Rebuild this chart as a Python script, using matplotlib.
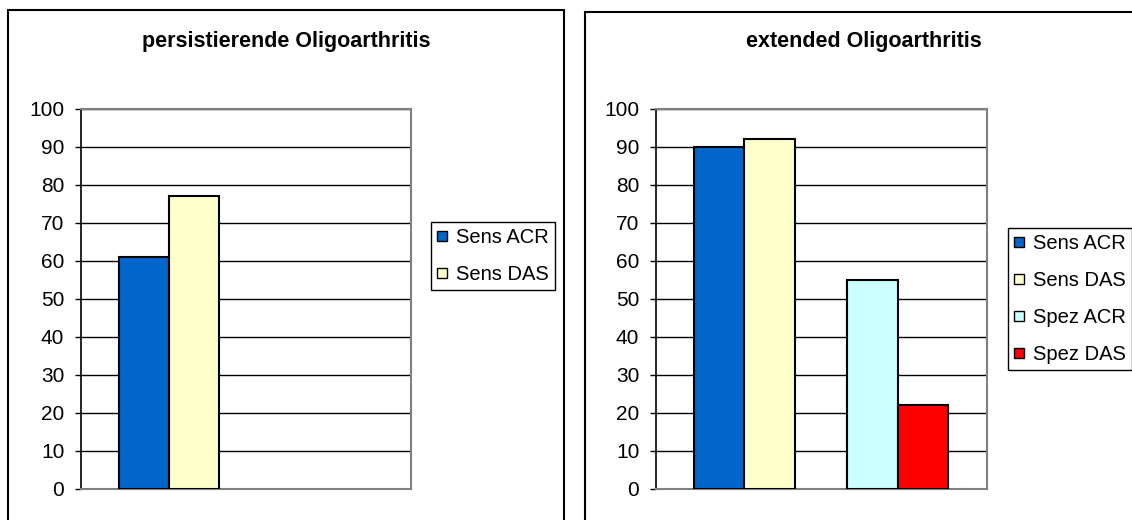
import matplotlib.pyplot as plt
from matplotlib.patches import Rectangle

plt.rcParams['font.family'] = ['Liberation Sans', 'DejaVu Sans']

# ── Data ──────────────────────────────────────────────────────────────
SERIES   = ["Sens ACR", "Sens DAS", "Spez ACR", "Spez DAS"]
COLORS   = ["#0066CC", "#FFFFCC", "#CCFFFF", "#FF0000"]
Y_TICKS  = [0, 10, 20, 30, 40, 50, 60, 70, 80, 90, 100]

PERSIST_TITLE  = "persistierende Oligoarthritis"
PERSIST_SENS   = [61, 77]          # Sens ACR, Sens DAS

EXTENDED_TITLE = "extended Oligoarthritis"
EXTENDED_SENS  = [90, 92]          # Sens ACR, Sens DAS
EXTENDED_SPEZ  = [55, 22]          # Spez ACR, Spez DAS
# ─────────────────────────────────────────────────────────────────────

W, H = 1132, 520
BAR_W = 0.329


def fx(px):
    return px / W


def fy(py):
    return (H - py) / H


def style_axes(ax):
    ax.set_xlim(-0.575, 1.58)
    ax.set_ylim(0, 100)
    ax.set_yticks(Y_TICKS)
    ax.set_xticks([])
    ax.grid(axis='y', color='black', lw=1)
    ax.set_axisbelow(True)
    for side in ['top', 'right', 'bottom']:
        ax.spines[side].set_color('#808080')
        ax.spines[side].set_linewidth(1.5)
    ax.spines['left'].set_color('black')
    ax.spines['left'].set_linewidth(1.2)
    ax.tick_params(axis='y', direction='out', length=4, width=1,
                   pad=8, labelsize=15)


def draw_group(ax, x, values, colors, labels):
    offsets = [-BAR_W / 2, BAR_W / 2]
    for off, v, c, lab in zip(offsets, values, colors, labels):
        ax.bar(x + off, v, width=BAR_W, color=c, edgecolor='black',
               lw=1.5, label=lab, zorder=3)


def add_legend(ax, fig, left_px, top_px):
    leg = ax.legend(loc='upper left',
                    bbox_to_anchor=(fx(left_px), fy(top_px)),
                    bbox_transform=fig.transFigure, borderaxespad=0,
                    fontsize=14.5, frameon=True, fancybox=False,
                    framealpha=1, edgecolor='black',
                    handlelength=0.5, handleheight=0.4,
                    handletextpad=0.45, labelspacing=0.9, borderpad=0.3)
    leg.get_frame().set_linewidth(1)
    for h in leg.legend_handles:
        h.set_linewidth(1)


def main():
    fig = plt.figure(figsize=(W / 100, H / 100), dpi=100)

    # chart frames
    fig.patches.append(Rectangle((fx(8), -0.1), fx(556), fy(10) + 0.1,
                                 transform=fig.transFigure, fill=False,
                                 edgecolor='black', lw=1.5))
    fig.patches.append(Rectangle((fx(585), -0.1), fx(556), fy(12) + 0.1,
                                 transform=fig.transFigure, fill=False,
                                 edgecolor='black', lw=1.5))

    # persistierende Oligoarthritis
    ax1 = fig.add_axes([fx(81), fy(489), fx(330), (489 - 109) / H])
    draw_group(ax1, 0, PERSIST_SENS, COLORS[:2], SERIES[:2])
    style_axes(ax1)
    fig.text(fx(286), fy(42), PERSIST_TITLE, ha='center', va='center',
             fontsize=15.5, fontweight='bold')
    add_legend(ax1, fig, 431, 222)

    # extended Oligoarthritis
    ax2 = fig.add_axes([fx(656), fy(489), fx(331), (489 - 109) / H])
    draw_group(ax2, 0, EXTENDED_SENS, COLORS[:2], SERIES[:2])
    draw_group(ax2, 1, EXTENDED_SPEZ, COLORS[2:], SERIES[2:])
    style_axes(ax2)
    fig.text(fx(864), fy(42), EXTENDED_TITLE, ha='center', va='center',
             fontsize=15.5, fontweight='bold')
    add_legend(ax2, fig, 1008, 228)

    fig.savefig("out.png", dpi=100)


if __name__ == "__main__":
    main()
